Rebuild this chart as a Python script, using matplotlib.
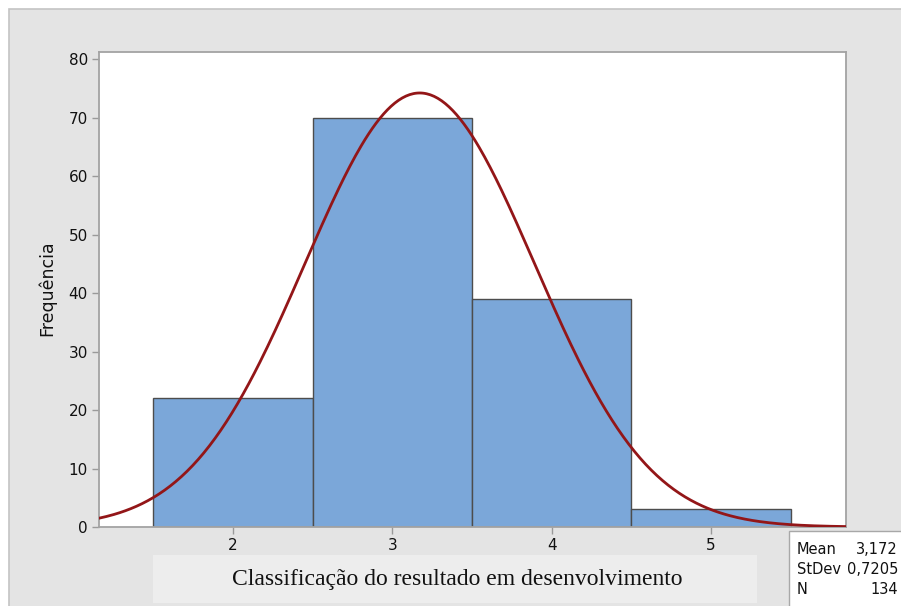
import numpy as np
import matplotlib
matplotlib.use("Agg")
import matplotlib.pyplot as plt
from matplotlib.patches import Rectangle

# histogram data
bin_centers = [2, 3, 4, 5]
counts = [22, 70, 39, 3]
bin_width = 1.0
mean = 3.172
stdev = 0.7205
n_obs = 134

W, H = 901, 606
fig = plt.figure(figsize=(W / 100, H / 100), dpi=100)
fig.patch.set_facecolor("white")

def fx(px):
    return px / W

def fy(py):
    return 1 - py / H

# grey outer panel (runs off the right and bottom edges)
fig.patches.append(Rectangle((fx(9), -0.05), 1.1 - fx(9), fy(9) + 0.05, transform=fig.transFigure,
                             facecolor="#e4e4e4", edgecolor="#c4c4c4", linewidth=1.2, zorder=-5))

ax = fig.add_axes([fx(99), fy(527), fx(846) - fx(99), fy(52) - fy(527)])
ax.set_zorder(2)
ax.set_facecolor("white")

ax.bar(bin_centers, counts, width=bin_width, color="#7ba7d9", edgecolor="#4d4d4d",
       linewidth=1.0, zorder=2)

# fitted normal curve scaled to counts
xs = np.linspace(1.16, 5.846, 400)
ys = n_obs * bin_width / (stdev * np.sqrt(2 * np.pi)) * np.exp(-0.5 * ((xs - mean) / stdev) ** 2)
ax.plot(xs, ys, color="#931618", linewidth=2.0, zorder=3)

ax.set_xlim(1.16, 5.846)
ax.set_ylim(0, 81.2)
ax.set_xticks(bin_centers)
ax.set_yticks(range(0, 81, 10))
ax.tick_params(axis="both", direction="out", length=5, width=1, color="#9a9a9a",
               labelsize=11, labelcolor="#111111", pad=3)
for side in ["top", "right", "left", "bottom"]:
    ax.spines[side].set_color("#a3a3a3")
    ax.spines[side].set_linewidth(1.3)

fig.text(fx(47), fy(288), "Frequência", rotation=90, ha="center", va="center",
         fontsize=12.5, color="#111111")

# x label on its own lighter box
fig.patches.append(Rectangle((fx(153), fy(603)), fx(757) - fx(153), fy(555) - fy(603),
                             transform=fig.transFigure, facecolor="#ededed",
                             edgecolor="none", zorder=1))
fig.text(fx(457), fy(580), "Classificação do resultado em desenvolvimento",
         ha="center", va="center", fontsize=17, family="Liberation Serif", color="#111111")

# summary box
fig.patches.append(Rectangle((fx(789), fy(610)), fx(910) - fx(789), fy(531) - fy(610),
                             transform=fig.transFigure, facecolor="white",
                             edgecolor="#a8a8a8", linewidth=1.0, zorder=3))
stats = [("Mean", "3,172"), ("StDev", "0,7205"), ("N", f"{n_obs}")]
for i, (name, val) in enumerate(stats):
    y = fy(549 + 20 * i)
    fig.text(fx(797), y, name, ha="left", va="center", fontsize=10.5, color="#111111", zorder=4)
    fig.text(fx(898), y, val, ha="right", va="center", fontsize=10.5, color="#111111", zorder=4)

fig.savefig("out.png", dpi=100)
